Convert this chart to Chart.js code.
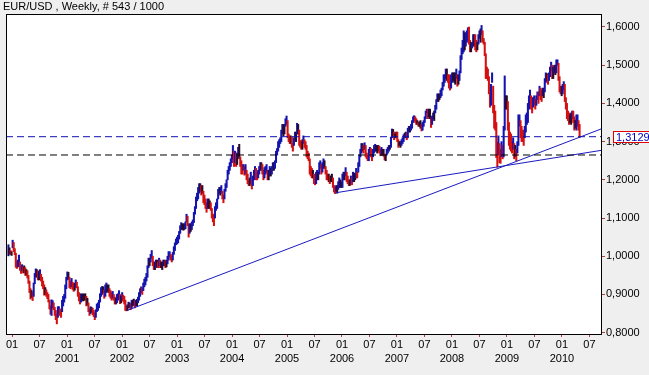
<!DOCTYPE html>
<html>
<head>
<meta charset="utf-8">
<script src="https://cdn.jsdelivr.net/npm/chart.js@4/dist/chart.umd.min.js"></script>
<style>
  body { margin: 0; background: #efefef; }
  #wrap { width: 649px; height: 375px; }
</style>
</head>
<body>
<div id="wrap"><canvas id="myChart" width="649" height="375"></canvas></div>
<script>
// weekly bars [low, high], one line per month
const w1999 = [[1.001,1.030],[1.005,1.022],[1.005,1.015],[1.002,1.012]];
const w2000 = [
  [1.022,1.042],[1.012,1.036],[1.004,1.020],[0.971,1.008],
  [0.968,0.987],[0.972,0.990],[0.976,1.003],[0.963,0.985],
  [0.955,0.975],[0.962,0.978],[0.956,0.972],[0.957,0.975],[0.950,0.970],
  [0.950,0.965],[0.943,0.962],[0.929,0.950],[0.905,0.935],
  [0.888,0.915],[0.892,0.910],[0.884,0.905],[0.895,0.930],
  [0.928,0.955],[0.946,0.967],[0.945,0.965],[0.938,0.962],[0.938,0.960],
  [0.945,0.965],[0.935,0.953],[0.922,0.945],[0.915,0.935],
  [0.898,0.925],[0.900,0.918],[0.895,0.912],[0.889,0.905],
  [0.880,0.900],[0.862,0.885],[0.848,0.870],[0.845,0.886],[0.865,0.884],
  [0.860,0.878],[0.845,0.866],[0.834,0.858],[0.823,0.848],
  [0.840,0.868],[0.850,0.868],[0.845,0.862],[0.840,0.858],
  [0.855,0.885],[0.870,0.895],[0.880,0.900],[0.890,0.925],[0.915,0.945]
];
const w2001 = [
  [0.938,0.959],[0.940,0.958],[0.918,0.945],[0.915,0.935],
  [0.920,0.942],[0.913,0.932],[0.908,0.928],[0.911,0.930],
  [0.918,0.938],[0.917,0.932],[0.895,0.920],[0.883,0.905],[0.875,0.895],
  [0.880,0.902],[0.885,0.900],[0.883,0.902],[0.885,0.900],
  [0.885,0.902],[0.870,0.895],[0.872,0.890],[0.855,0.878],
  [0.845,0.862],[0.850,0.868],[0.853,0.866],[0.847,0.864],[0.842,0.858],
  [0.834,0.852],[0.840,0.860],[0.855,0.875],[0.858,0.878],
  [0.865,0.885],[0.880,0.902],[0.895,0.918],[0.900,0.921],[0.905,0.920],
  [0.890,0.912],[0.895,0.925],[0.905,0.930],[0.908,0.925],
  [0.905,0.925],[0.895,0.915],[0.890,0.910],[0.885,0.905],
  [0.890,0.908],[0.885,0.900],[0.875,0.893],[0.875,0.890],[0.878,0.900],
  [0.885,0.902],[0.890,0.910],[0.876,0.900],[0.878,0.896]
];
const w2002 = [
  [0.885,0.905],[0.882,0.898],[0.875,0.895],[0.858,0.885],
  [0.857,0.870],[0.858,0.873],[0.865,0.880],[0.865,0.878],
  [0.860,0.875],[0.865,0.885],[0.870,0.885],[0.872,0.888],[0.865,0.882],
  [0.870,0.885],[0.870,0.887],[0.878,0.893],[0.885,0.905],
  [0.895,0.915],[0.905,0.920],[0.900,0.918],[0.910,0.930],[0.920,0.940],
  [0.925,0.945],[0.935,0.955],[0.945,0.975],[0.970,0.995],
  [0.975,0.995],[0.985,1.005],[0.995,1.015],[0.975,1.000],
  [0.965,0.985],[0.965,0.985],[0.970,0.990],[0.975,0.990],[0.970,0.985],
  [0.975,0.995],[0.970,0.990],[0.970,0.985],[0.965,0.985],
  [0.975,0.990],[0.975,0.990],[0.970,0.988],[0.972,0.990],
  [0.980,1.000],[0.990,1.012],[0.998,1.012],[0.990,1.005],[0.985,1.000],
  [0.990,1.010],[1.005,1.025],[1.015,1.035],[1.030,1.045]
];
const w2003 = [
  [1.032,1.050],[1.035,1.055],[1.045,1.065],[1.060,1.080],[1.070,1.088],
  [1.070,1.085],[1.068,1.085],[1.070,1.085],[1.072,1.090],
  [1.090,1.110],[1.080,1.105],[1.050,1.085],[1.060,1.085],
  [1.065,1.085],[1.070,1.090],[1.080,1.095],[1.088,1.115],
  [1.110,1.130],[1.125,1.155],[1.145,1.165],[1.150,1.180],[1.165,1.190],
  [1.170,1.190],[1.160,1.185],[1.165,1.185],[1.140,1.170],
  [1.135,1.160],[1.125,1.150],[1.115,1.140],[1.125,1.150],
  [1.125,1.150],[1.125,1.145],[1.120,1.140],[1.100,1.125],[1.090,1.110],
  [1.080,1.110],[1.100,1.130],[1.120,1.140],[1.125,1.150],
  [1.150,1.175],[1.165,1.180],[1.160,1.180],[1.165,1.185],[1.150,1.170],
  [1.140,1.160],[1.150,1.175],[1.170,1.190],[1.180,1.200],
  [1.200,1.225],[1.215,1.235],[1.225,1.245],[1.235,1.255]
];
const w2004 = [
  [1.245,1.265],[1.255,1.290],[1.235,1.275],[1.245,1.275],[1.235,1.270],
  [1.240,1.270],[1.260,1.285],[1.255,1.293],[1.235,1.260],
  [1.215,1.250],[1.215,1.240],[1.225,1.240],[1.212,1.235],
  [1.215,1.240],[1.200,1.225],[1.190,1.215],[1.185,1.200],[1.185,1.205],
  [1.190,1.220],[1.176,1.200],[1.185,1.210],[1.200,1.225],
  [1.215,1.235],[1.200,1.230],[1.200,1.220],[1.205,1.225],
  [1.215,1.235],[1.225,1.245],[1.225,1.245],[1.215,1.240],[1.200,1.225],
  [1.205,1.232],[1.215,1.235],[1.220,1.240],[1.200,1.225],
  [1.200,1.225],[1.210,1.235],[1.210,1.230],[1.215,1.235],
  [1.225,1.245],[1.225,1.245],[1.230,1.250],[1.245,1.275],[1.265,1.282],
  [1.275,1.300],[1.285,1.305],[1.295,1.310],[1.300,1.330],
  [1.320,1.345],[1.315,1.345],[1.320,1.345],[1.340,1.360],[1.345,1.367]
];
const w2005 = [
  [1.310,1.355],[1.300,1.320],[1.295,1.315],[1.295,1.315],
  [1.285,1.312],[1.275,1.295],[1.290,1.310],[1.305,1.325],
  [1.300,1.325],[1.320,1.348],[1.320,1.345],[1.290,1.330],
  [1.285,1.303],[1.280,1.300],[1.280,1.305],[1.295,1.315],[1.285,1.305],
  [1.280,1.300],[1.260,1.290],[1.255,1.275],[1.250,1.270],
  [1.215,1.255],[1.210,1.235],[1.205,1.230],[1.205,1.225],
  [1.190,1.215],[1.187,1.205],[1.190,1.220],[1.200,1.225],[1.200,1.220],
  [1.215,1.245],[1.230,1.250],[1.215,1.240],[1.220,1.245],
  [1.230,1.255],[1.230,1.250],[1.215,1.235],[1.200,1.225],[1.200,1.215],
  [1.195,1.215],[1.190,1.210],[1.195,1.210],[1.195,1.215],
  [1.180,1.205],[1.168,1.185],[1.164,1.180],[1.170,1.185],
  [1.165,1.185],[1.175,1.195],[1.180,1.205],[1.180,1.200],[1.180,1.195]
];
const w2006 = [
  [1.180,1.215],[1.200,1.220],[1.200,1.220],[1.210,1.232],
  [1.195,1.220],[1.190,1.210],[1.185,1.200],[1.185,1.200],
  [1.190,1.210],[1.187,1.205],[1.195,1.220],[1.195,1.218],[1.200,1.215],
  [1.205,1.230],[1.205,1.220],[1.220,1.245],[1.235,1.265],
  [1.260,1.280],[1.270,1.295],[1.275,1.295],[1.270,1.290],
  [1.280,1.297],[1.260,1.290],[1.255,1.270],[1.250,1.265],[1.250,1.280],
  [1.270,1.285],[1.260,1.282],[1.250,1.275],[1.260,1.280],
  [1.270,1.290],[1.275,1.293],[1.275,1.290],[1.270,1.290],
  [1.275,1.290],[1.270,1.288],[1.263,1.280],[1.265,1.285],[1.265,1.280],
  [1.262,1.280],[1.252,1.268],[1.250,1.265],[1.265,1.280],
  [1.270,1.285],[1.275,1.290],[1.280,1.290],[1.285,1.312],
  [1.310,1.333],[1.315,1.332],[1.305,1.325],[1.310,1.320],[1.310,1.325]
];
const w2007 = [
  [1.300,1.325],[1.285,1.305],[1.290,1.300],[1.285,1.300],
  [1.290,1.305],[1.295,1.310],[1.300,1.318],[1.310,1.322],
  [1.310,1.325],[1.305,1.322],[1.310,1.335],[1.325,1.340],[1.325,1.340],
  [1.330,1.345],[1.335,1.355],[1.350,1.365],[1.355,1.368],
  [1.350,1.365],[1.345,1.360],[1.345,1.355],[1.340,1.350],
  [1.340,1.352],[1.335,1.355],[1.328,1.345],[1.330,1.350],[1.340,1.355],
  [1.350,1.365],[1.360,1.380],[1.375,1.385],[1.360,1.385],
  [1.365,1.385],[1.360,1.385],[1.337,1.360],[1.345,1.367],[1.360,1.375],
  [1.355,1.380],[1.375,1.395],[1.385,1.410],[1.405,1.425],
  [1.405,1.425],[1.410,1.425],[1.415,1.435],[1.420,1.440],
  [1.435,1.455],[1.445,1.475],[1.455,1.475],[1.465,1.490],[1.460,1.490],
  [1.455,1.475],[1.440,1.475],[1.435,1.450],[1.440,1.475]
];
const w2008 = [
  [1.455,1.480],[1.460,1.480],[1.455,1.480],[1.450,1.480],
  [1.465,1.490],[1.445,1.475],[1.450,1.475],[1.460,1.485],[1.480,1.525],
  [1.515,1.545],[1.530,1.565],[1.535,1.590],[1.540,1.585],
  [1.550,1.585],[1.560,1.590],[1.565,1.598],[1.555,1.600],
  [1.535,1.565],[1.535,1.560],[1.545,1.560],[1.550,1.580],[1.550,1.580],
  [1.540,1.580],[1.535,1.565],[1.540,1.560],[1.555,1.580],
  [1.570,1.590],[1.560,1.595],[1.580,1.604],[1.560,1.590],
  [1.555,1.570],[1.525,1.560],[1.465,1.530],[1.465,1.495],[1.460,1.490],
  [1.425,1.470],[1.390,1.435],[1.395,1.450],[1.455,1.480],
  [1.375,1.445],[1.335,1.395],[1.330,1.380],[1.258,1.350],[1.233,1.298],
  [1.265,1.315],[1.245,1.295],[1.243,1.280],[1.260,1.300],
  [1.255,1.290],[1.260,1.340],[1.330,1.472],[1.385,1.420]
];
const w2009 = [
  [1.385,1.420],[1.330,1.405],[1.290,1.350],[1.280,1.325],[1.275,1.320],
  [1.270,1.300],[1.280,1.310],[1.255,1.295],[1.260,1.290],
  [1.250,1.280],[1.270,1.300],[1.290,1.370],[1.340,1.370],
  [1.310,1.355],[1.300,1.340],[1.300,1.330],[1.290,1.330],
  [1.310,1.340],[1.325,1.370],[1.345,1.375],[1.350,1.400],[1.385,1.420],
  [1.400,1.435],[1.385,1.420],[1.375,1.415],[1.390,1.415],
  [1.395,1.420],[1.385,1.410],[1.395,1.420],[1.410,1.430],[1.400,1.430],
  [1.420,1.445],[1.410,1.440],[1.405,1.435],[1.420,1.440],
  [1.415,1.440],[1.430,1.465],[1.455,1.480],[1.460,1.478],
  [1.450,1.475],[1.460,1.480],[1.470,1.495],[1.485,1.508],[1.465,1.500],
  [1.465,1.495],[1.480,1.500],[1.475,1.500],[1.480,1.514],
  [1.500,1.514],[1.460,1.505],[1.430,1.470],[1.425,1.445]
];
const w2010 = [
  [1.420,1.445],[1.425,1.450],[1.435,1.457],[1.405,1.450],[1.385,1.415],
  [1.360,1.400],[1.355,1.380],[1.345,1.375],[1.350,1.370],
  [1.345,1.375],[1.360,1.380],[1.350,1.380],[1.330,1.365],
  [1.335,1.356],[1.330,1.370],[1.340,1.370],[1.330,1.355],[1.311,1.345]
];

const firstWeek = Date.UTC(1999, 11, 8);   // middle of first weekly bar
const lastClose = 1.3129;
const levels = [1.3129, 1.265];           // dashed horizontal lines
const trendA = [[2002.09, 0.858], [2010.71, 1.333]];
const trendB = [[2005.88, 1.166], [2010.71, 1.277]];
const yTicks = [0.8, 0.9, 1.0, 1.1, 1.2, 1.3, 1.4, 1.5, 1.6];
const xStart = 1999.89, xEnd = 2010.71;

function decYear(ms) {
  const d = new Date(ms);
  const y = d.getUTCFullYear();
  const s = Date.UTC(y, 0, 1), e = Date.UTC(y + 1, 0, 1);
  return y + (ms - s) / (e - s);
}

const weeks = [].concat(w1999, w2000, w2001, w2002, w2003, w2004, w2005, w2006, w2007, w2008, w2009, w2010);
const bars = weeks.map((w, i) => ({ x: decYear(firstWeek + i * 7 * 864e5), y: w }));
// up weeks blue, down weeks red, flat-ish weeks dark
const barColors = weeks.map((w, i) => {
  if (i == 0) return '#10108a';
  const d = (w[0] + w[1]) - (weeks[i-1][0] + weeks[i-1][1]);
  if (Math.abs(d) < 0.006) return '#2a0a2a';
  return d > 0 ? '#1414b0' : '#d41010';
});

const xTicks = [];
for (let y = 2000; y <= 2010; y++) { xTicks.push(y); xTicks.push(y + 0.5); }

const frame = {
  id: 'frame',
  beforeDraw(c) {
    const { ctx, chartArea: a } = c;
    ctx.save();
    ctx.fillStyle = '#efefef';
    ctx.fillRect(0, 0, c.width, c.height);
    ctx.fillStyle = '#ffffff';
    ctx.fillRect(a.left, a.top, a.right - a.left, a.bottom - a.top);
    ctx.restore();
  },
  afterDraw(c) {
    const { ctx, chartArea: a } = c;
    ctx.save();
    ctx.strokeStyle = '#000';
    ctx.lineWidth = 1;
    ctx.strokeRect(a.left + 0.5, a.top + 0.5, a.right - a.left, a.bottom - a.top);
    ctx.font = '11px "Liberation Sans", Arial, sans-serif';
    ctx.fillStyle = '#000';
    ctx.textBaseline = 'middle';
    ctx.fillText('EUR/USD , Weekly, # 543 / 1000', 3, 7);
    // last price box
    const py = Math.round(c.scales.y.getPixelForValue(lastClose));
    ctx.fillStyle = '#ffffff';
    ctx.fillRect(613, py - 5, 40, 10);
    ctx.strokeStyle = '#e00000';
    ctx.strokeRect(613.5, py - 5.5, 40, 11);
    ctx.fillStyle = '#0000c0';
    ctx.fillText(lastClose.toFixed(4).replace('.', ','), 616, py + 0.5);
    ctx.restore();
  }
};

const lineDs = (pts, color, dash) => ({
  type: 'line',
  data: pts.map(p => ({ x: p[0], y: p[1] })),
  borderColor: color,
  borderWidth: 1,
  borderDash: dash,
  pointRadius: 0,
  fill: false,
  order: 0
});

new Chart(document.getElementById('myChart'), {
  type: 'bar',
  data: {
    datasets: [
      {
        data: bars,
        backgroundColor: barColors,
        barThickness: 1.4,
        order: 1
      },
      lineDs([[xStart, levels[0]], [xEnd, levels[0]]], '#1010b0', [7, 4]),
      lineDs([[xStart, levels[1]], [xEnd, levels[1]]], '#000000', [7, 4]),
      lineDs(trendA, '#1a1ac0', []),
      lineDs(trendB, '#1a1ac0', [])
    ]
  },
  options: {
    responsive: false,
    animation: false,
    layout: { padding: { left: 6, top: 14, right: 0, bottom: 0 } },
    plugins: { legend: { display: false }, tooltip: { enabled: false } },
    scales: {
      x: {
        type: 'linear',
        min: xStart,
        max: xEnd,
        offset: false,
        afterFit: s => { s.height = 41; },
        afterBuildTicks: s => { s.ticks = xTicks.map(v => ({ value: v })); },
        grid: { drawOnChartArea: false, drawTicks: true, tickLength: 3, color: '#b04040', offset: false },
        border: { display: false },
        ticks: {
          autoSkip: false,
          maxRotation: 0,
          padding: 1,
          color: '#000',
          font: { family: '"Liberation Sans", Arial, sans-serif', size: 11, lineHeight: '14px' },
          callback: v => {
            if (Number.isInteger(v)) return ['01', v > 2000 ? String(v) : ''];
            return ['07', ''];
          }
        }
      },
      y: {
        position: 'right',
        min: 0.7965,
        max: 1.634,
        afterFit: s => { s.width = 48; },
        afterBuildTicks: s => { s.ticks = yTicks.map(v => ({ value: v })); },
        grid: { drawOnChartArea: false, drawTicks: true, tickLength: 4, color: '#b04040' },
        border: { display: false },
        ticks: {
          padding: 1,
          color: '#000',
          font: { family: '"Liberation Sans", Arial, sans-serif', size: 11 },
          callback: v => v.toFixed(4).replace('.', ',')
        }
      }
    }
  },
  plugins: [frame]
});
</script>
</body>
</html>
